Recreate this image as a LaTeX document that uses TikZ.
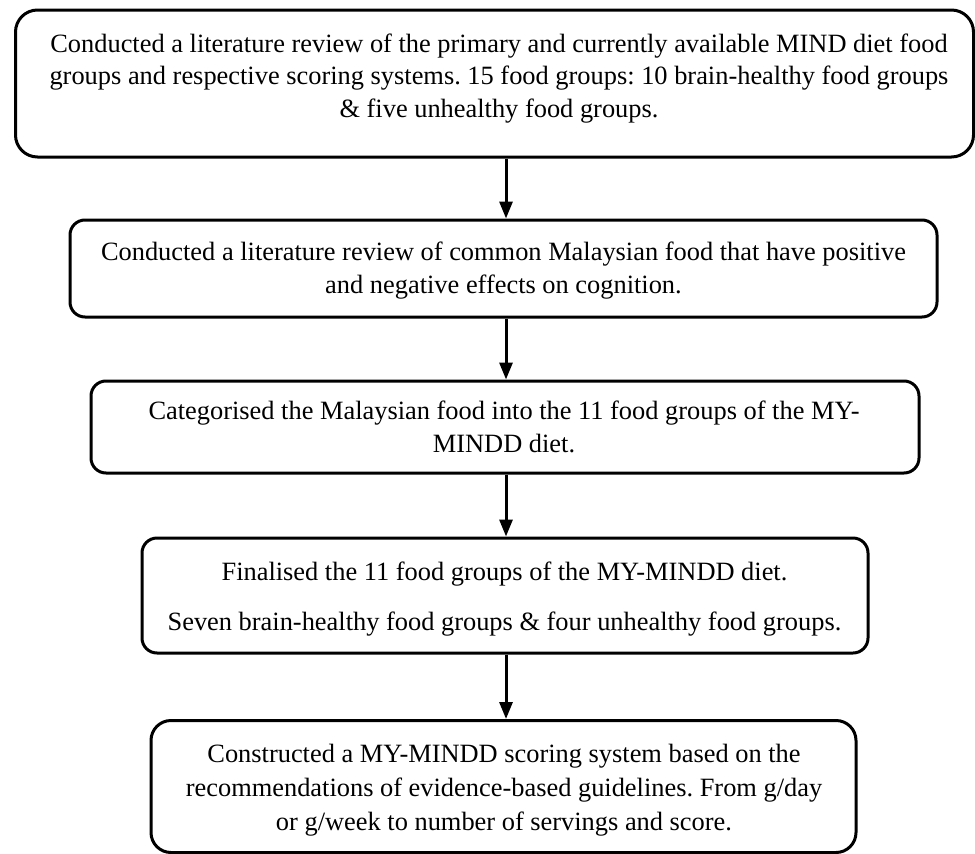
\documentclass[tikz,border=0pt]{standalone}
\usepackage{fontspec}
\setmainfont{Liberation Serif}
\usetikzlibrary{arrows.meta}
\frenchspacing
\begin{document}
\begin{tikzpicture}[x=1pt,y=-1pt,
  box/.style={draw=black, line width=3pt, rectangle, inner sep=0pt},
  txt/.style={anchor=base, inner sep=0pt, font=\fontsize{26.4}{34}\selectfont\frenchspacing},
  arr/.style={draw=black, line width=3pt, -{Triangle[length=17pt,width=13pt]}}]
\useasboundingbox (0,0) rectangle (975,854);
\fill[white] (0,0) rectangle (975,854);

% boxes
\node[box, rounded corners=22pt, minimum width=958pt, minimum height=147pt] (b1) at (494.5,83.5) {};
\node[box, rounded corners=15pt, minimum width=867pt, minimum height=97pt] (b2) at (503.5,268.5) {};
\node[box, rounded corners=15pt, minimum width=828pt, minimum height=92pt] (b3) at (505,427) {};
\node[box, rounded corners=15pt, minimum width=726pt, minimum height=115pt] (b4) at (505,595.5) {};
\node[box, rounded corners=20pt, minimum width=705pt, minimum height=132pt] (b5) at (503.5,786.5) {};

% texts
\node[txt] (t11) at (499,52) {Conducted a literature review of the primary and currently available MIND diet food};
\node[txt] (t12) at (499,84.5) {groups and respective scoring systems. 15 food groups: 10 brain-healthy food groups};
\node[txt] (t13) at (499,117) {\& five unhealthy food groups.};

\node[txt] (t21) at (503.5,260) {Conducted a literature review of common Malaysian food that have positive};
\node[txt] (t22) at (503.5,293) {and negative effects on cognition.};

\node[txt] (t31) at (504,419) {Categorised the Malaysian food into the 11 food groups of the MY-};
\node[txt] (t32) at (504,452) {MINDD diet.};

\node[txt] (t41) at (504.5,580) {Finalised the 11 food groups of the MY-MINDD diet.};
\node[txt] (t42) at (504.5,630) {Seven brain-healthy food groups \& four unhealthy food groups.};

\node[txt] (t51) at (504,762) {Constructed a MY-MINDD scoring system based on the};
\node[txt] (t52) at (504,796) {recommendations of evidence-based guidelines. From g/day};
\node[txt] (t53) at (504,830) {or g/week to number of servings and score.};

% arrows
\coordinate (ax) at (506,0);
\draw[arr] (b1.south -| ax) -- (b2.north -| ax);
\draw[arr] (b2.south -| ax) -- (b3.north -| ax);
\draw[arr] (b3.south -| ax) -- (b4.north -| ax);
\draw[arr] (b4.south -| ax) -- (b5.north -| ax);
\end{tikzpicture}
\end{document}
